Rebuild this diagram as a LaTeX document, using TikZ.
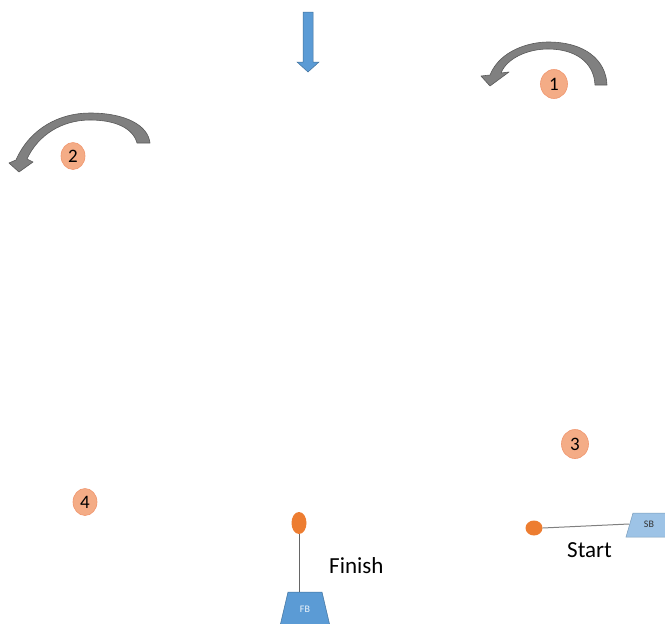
\documentclass[tikz,border=0pt]{standalone}
\usepackage{fontspec}
\setmainfont{Carlito}
\usetikzlibrary{shapes.geometric}
\definecolor{blueA}{RGB}{91,155,213}
\definecolor{blueB}{RGB}{65,113,156}
\definecolor{blueL}{RGB}{157,195,230}
\definecolor{grayA}{RGB}{128,128,128}
\definecolor{grayB}{RGB}{89,89,89}
\definecolor{salmon}{RGB}{244,172,134}
\definecolor{salmonB}{RGB}{240,150,110}
\definecolor{orangeD}{RGB}{237,125,49}
\begin{document}
\begin{tikzpicture}[x=1pt,y=-1pt,
  badge/.style={ellipse,fill=salmon,draw=salmonB,line width=0.6pt,inner sep=0pt,minimum width=27pt,minimum height=29pt,font=\fontsize{19}{19}\selectfont},
  curvedarrow/.style={fill=grayA,draw=grayB,line width=0.6pt,line join=round},
  lbl/.style={font=\fontsize{23}{23}\selectfont,inner sep=0pt},
  dot/.style={ellipse,fill=orangeD,draw=none,inner sep=0pt}]
\useasboundingbox (0,0) rectangle (665,624);
% top blue arrow
\fill[blueA,draw=blueB,line width=0.5pt] (303,12) -- (313,12) -- (313,62) -- (319,62) -- (308,72) -- (297,62) -- (303,62) -- cycle;
% curved arrow 1
\path[curvedarrow] (595,85) -- (607,85) .. controls (606,60) and (585,42) .. (548,42)
  .. controls (530,42) and (500,50) .. (490,75)
  -- (481,76) -- (490,86) -- (509,72) -- (501,73)
  .. controls (507,58) and (528,49) .. (548,49)
  .. controls (575,49) and (594,62) .. (595,85) -- cycle;
% curved arrow 2
\path[curvedarrow] (137,143) -- (150,143) .. controls (148,125) and (125,113) .. (90,113)
  .. controls (60,113) and (30,128) .. (16,160)
  -- (9,163) -- (19,172) -- (33,162) -- (27,159)
  .. controls (38,135) and (62,120) .. (90,120)
  .. controls (115,120) and (133,128) .. (137,143) -- cycle;
% badges
\node[badge] (b1) at (554,84) {1};
\node[badge,minimum width=24pt,minimum height=27pt] (b2) at (73,156) {2};
\node[badge] (b3) at (575,444) {3};
\node[badge,minimum width=24pt,minimum height=27pt] (b4) at (85,502) {4};
% Start
\node[dot,minimum width=17pt,minimum height=15pt] (sdot) at (534,528) {};
\path[fill=blueL,draw=blueB!70,line width=0.5pt] (633,513) -- (668,513) -- (668,537) -- (626,537) -- cycle;
\node[font=\fontsize{10}{10}\selectfont,text=black!80,inner sep=0pt] (sb) at (649,524) {SB};
\coordinate (sbl) at (629,524);
\draw[gray,line width=1pt] (sdot.east) -- (sbl);
\node[lbl,anchor=base west] (start) at (567,557) {Start};
% Finish
\node[dot,minimum width=15pt,minimum height=22pt] (fdot) at (299,523) {};
\path[fill=blueA,draw=blueB,line width=0.5pt] (288,592) -- (322,592) -- (330,626) -- (280,626) -- cycle;
\node[font=\fontsize{10}{10}\selectfont,text=white!90!blueA,inner sep=0pt] (fb) at (305,609) {FB};
\coordinate (fbt) at (299,592);
\draw[gray!80!black,line width=1pt] (fdot.south) -- (fbt);
\node[lbl,anchor=base west] (finish) at (329,573) {Finish};
\end{tikzpicture}
\end{document}
